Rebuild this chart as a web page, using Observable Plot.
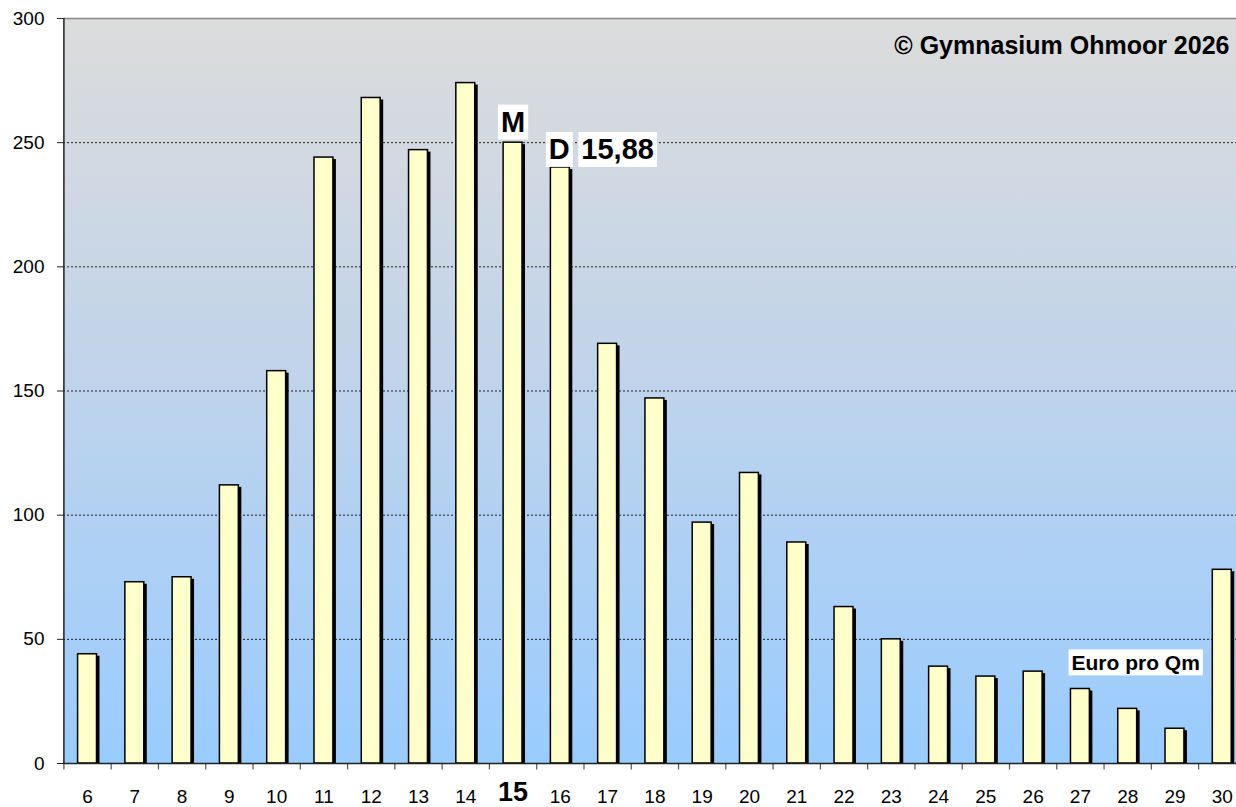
<!DOCTYPE html>
<html><head><meta charset="utf-8">
<script src="https://cdn.jsdelivr.net/npm/d3@7"></script>
<script src="https://cdn.jsdelivr.net/npm/@observablehq/plot@0.6"></script>
<style>body{margin:0;background:#fff} svg{display:block}</style>
</head><body><div id="chart"></div>
<script>
const categories = [6,7,8,9,10,11,12,13,14,15,16,17,18,19,20,21,22,23,24,25,26,27,28,29,30];
const values = [44,73,75,112,158,244,268,247,274,250,240,169,147,97,117,89,63,50,39,35,37,30,22,14,78];
const yTicks = [0,50,100,150,200,250,300];
const gridLines = [50,100,150,200,250];
const highlightCategory = 15;
const annoTexts = ["M", "D", "15,88", "Euro pro Qm"];
const annoX = [15, 16, 16, 28];
const annoY = [258, 247, 247, 40.4];
const copyright = "© Gymnasium Ohmoor 2026";

const data = categories.map((c, i) => ({c, v: values[i]}));
const annos = annoTexts.map((t, i) => ({t, x: annoX[i], y: annoY[i]}));

const W = 1236, H = 807, ML = 63, MT = 18, MB = 44;
const rangeStart = 63.4, rangeEnd = 1245.4;
const step = (rangeEnd - rangeStart) / categories.length;
const font = "Liberation Sans, Arial, sans-serif";

// per-annotation styling (kept out of data arrays)
const annoStyle = {
  "M": {fontSize: 29, textAnchor: "middle", dx: 0},
  "D": {fontSize: 29, textAnchor: "middle", dx: -1},
  "15,88": {fontSize: 29, textAnchor: "start", dx: 21},
  "Euro pro Qm": {fontSize: 21, textAnchor: "middle", dx: 8}
};

const chart = Plot.plot({
  width: W, height: H,
  marginLeft: ML, marginRight: 0, marginTop: MT, marginBottom: MB,
  style: {fontFamily: font, color: "#000", background: "#fff", overflow: "visible"},
  x: {type: "band", domain: categories, range: [rangeStart, rangeEnd], paddingInner: 0.6, paddingOuter: 0.3, align: 0.5, round: false},
  y: {domain: [0, 300]},
  marks: [
    Plot.frame({fill: "url(#bg)", stroke: "none"}),
    Plot.ruleY(gridLines, {stroke: "#222", strokeWidth: 1, strokeDasharray: "2,2"}),
    Plot.ruleY([300], {stroke: "#888", strokeWidth: 1.5}),
    Plot.barY(data, {x: "c", y: "v", fill: "#000", dx: 3, insetTop: 2}),
    Plot.barY(data, {x: "c", y: "v", fill: "#FFFFCC", stroke: "#000", strokeWidth: 1.5}),
    Plot.ruleX(categories, {x: d => d, dx: -step / 2, y1: 0, y2: -2.6, stroke: "#555", strokeWidth: 1.2}),
    Plot.ruleX([categories[0]], {x: d => d, dx: -step / 2, y1: 0, y2: 300, stroke: "#222", strokeWidth: 1.5}),
    Plot.ruleY([0], {stroke: "#222", strokeWidth: 1.5}),
    Plot.axisY({ticks: yTicks, tickSize: 6, tickPadding: 13, fontSize: 19, label: null, stroke: "#222"}),
    Plot.axisX({tickSize: 0, tickPadding: 26, fontSize: 19, label: null, tickFormat: d => d === highlightCategory ? "" : String(d)}),
    Plot.text([highlightCategory], {x: d => d, y: 0, text: d => String(d), dy: 29, fontSize: 27, fontWeight: "bold"}),
    ...annos.map(a => Plot.text([a], {x: "x", y: "y", text: "t", fontWeight: "bold", ...annoStyle[a.t]})),
    Plot.text([copyright], {frameAnchor: "top-right", text: d => d, dx: -7, dy: 27, fontSize: 25, fontWeight: "bold", lineAnchor: "middle"})
  ]
});

const defs = document.createElementNS("http://www.w3.org/2000/svg", "defs");
defs.innerHTML = '<linearGradient id="bg" x1="0" y1="0" x2="0" y2="1"><stop offset="0" stop-color="#dcdcdc"/><stop offset="0.45" stop-color="#c2d4ea"/><stop offset="1" stop-color="#99ccff"/></linearGradient>';
chart.insertBefore(defs, chart.firstChild);
document.getElementById("chart").appendChild(chart);

Array.from(chart.querySelectorAll("text")).filter(t => annoTexts.includes(t.textContent)).forEach(t => {
  const b = t.getBBox();
  const r = document.createElementNS("http://www.w3.org/2000/svg", "rect");
  const px = 3, py = 1.5;
  r.setAttribute("x", b.x - px); r.setAttribute("y", b.y - py);
  r.setAttribute("width", b.width + 2 * px); r.setAttribute("height", b.height + 2 * py);
  r.setAttribute("fill", "#fff");
  if (t.getAttribute("transform")) r.setAttribute("transform", t.getAttribute("transform"));
  t.parentNode.insertBefore(r, t);
});
</script></body></html>
